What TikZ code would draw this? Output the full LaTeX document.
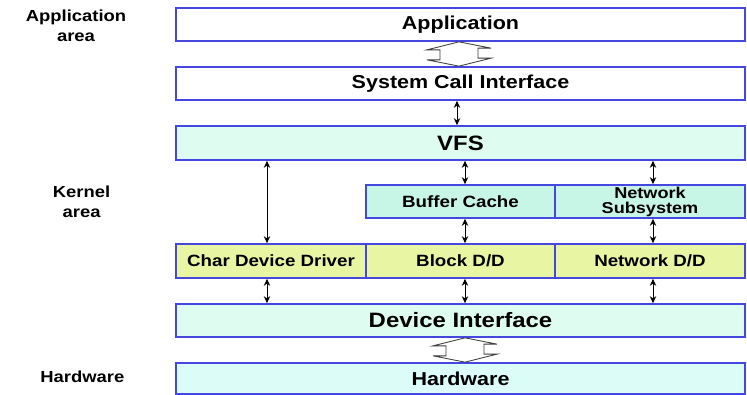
\documentclass[tikz,border=0pt]{standalone}
\usepackage{fontspec}
\setmainfont{Liberation Sans}[FakeStretch=1.15]
\usetikzlibrary{
	arrows.meta,
	calc
}
\definecolor{boxline}{RGB}{70,70,225}
\definecolor{vfsfill}{RGB}{222,252,240}
\definecolor{cachefill}{RGB}{200,246,230}
\definecolor{drvfill}{RGB}{232,246,164}
\definecolor{hwfill}{RGB}{220,252,248}
\definecolor{hollowline}{RGB}{60,60,60}

\begin{document}
\begin{tikzpicture}[
    layer/.style={draw=boxline, line width=1.2pt, inner sep=0pt,
                  minimum width=14.225cm, minimum height=0.825cm},
    part/.style={layer, minimum width=4.74cm, font=\bfseries\fontsize{11.6}{13}\selectfont},
    side/.style={align=center, font=\bfseries\fontsize{11.4}{13.6}\selectfont},
    link/.style={<->, >={Stealth[length=5pt,width=4.6pt]}, line width=0.7pt},
    hollow/.style={draw=hollowline, fill=white, line width=0.6pt, line join=miter}
]
    \useasboundingbox (0,0) rectangle (18.675,9.875);
    % Columns of the small arrows
    \coordinate (colA) at (6.675,0);
    \coordinate (colS) at (11.425,0);
    \coordinate (colB) at (11.625,0);
    \coordinate (colN) at (16.325,0);
    % Side labels
    \node[side] (lapp) at (1.9,9.23)  {Application\\area};
    \node[side] (lker) at (2.04,4.83) {Kernel\\area};
    \node[side] (lhw)  at (2.06,0.46) {Hardware};
    % Layers
    \node[layer, fill=white, font=\bfseries\fontsize{13.3}{15}\selectfont]
        (app) at (11.5125,9.2625) {Application};
    \node[layer, fill=white, font=\bfseries\fontsize{13.3}{15}\selectfont]
        (sci) at (11.5125,7.7875) {System Call Interface};
    \node[layer, fill=vfsfill, minimum height=0.85cm, font=\bfseries\fontsize{14.8}{16}\selectfont]
        (vfs) at (11.5125,6.3) {VFS};
    \node[part, fill=cachefill] (buffer) at (11.5125,4.8375) {Buffer Cache};
    \node[part, fill=cachefill, align=center, font=\bfseries\fontsize{11.2}{10.6}\selectfont]
        (netsub) at (16.25,4.8375) {Network\\Subsystem};
    \node[part, fill=drvfill, minimum height=0.85cm] (char)  at (6.775,3.35)   {Char Device Driver};
    \node[part, fill=drvfill, minimum height=0.85cm] (block) at (11.5125,3.35) {Block D/D};
    \node[part, fill=drvfill, minimum height=0.85cm] (netdd) at (16.25,3.35)   {Network D/D};
    \node[layer, fill=vfsfill, font=\bfseries\fontsize{14.8}{16}\selectfont]
        (devif) at (11.5125,1.8625) {Device Interface};
    \node[layer, fill=hwfill, minimum height=0.775cm, font=\bfseries\fontsize{13.3}{15}\selectfont]
        (hw) at (11.5125,0.4125) {Hardware};
    % Small arrows
    \draw[link] (sci.south -| colS)    -- (vfs.north -| colS);
    \draw[link] (vfs.south -| colA)    -- (char.north -| colA);
    \draw[link] (vfs.south -| colB)    -- (buffer.north -| colB);
    \draw[link] (vfs.south -| colN)    -- (netsub.north -| colN);
    \draw[link] (buffer.south -| colB) -- (block.north -| colB);
    \draw[link] (netsub.south -| colN) -- (netdd.north -| colN);
    \draw[link] (char.south -| colA)   -- (devif.north -| colA);
    \draw[link] (block.south -| colB)  -- (devif.north -| colB);
    \draw[link] (netdd.south -| colN)  -- (devif.north -| colN);
    % Hollow arrows
    \coordinate (appT) at ($(app.south -| colS)+(0.05,0)$);
    \coordinate (sciT) at ($(sci.north -| colS)+(0.05,0)$);
    \draw[hollow] (appT) -- ++(-0.8,-0.2) -- ++(0.325,0) -- ++(0,-0.25) -- ++(-0.325,0)
        -- (sciT) -- ++(0.8,0.2) -- ++(-0.325,0) -- ++(0,0.25) -- ++(0.325,0) -- cycle;
    \coordinate (devT) at (devif.south -| colB);
    \coordinate (hwT)  at (hw.north -| colB);
    \draw[hollow] (devT) -- ++(-0.8,-0.2) -- ++(0.325,0) -- ++(0,-0.25) -- ++(-0.325,0)
        -- (hwT) -- ++(0.8,0.2) -- ++(-0.325,0) -- ++(0,0.25) -- ++(0.325,0) -- cycle;
\end{tikzpicture}
\end{document}
